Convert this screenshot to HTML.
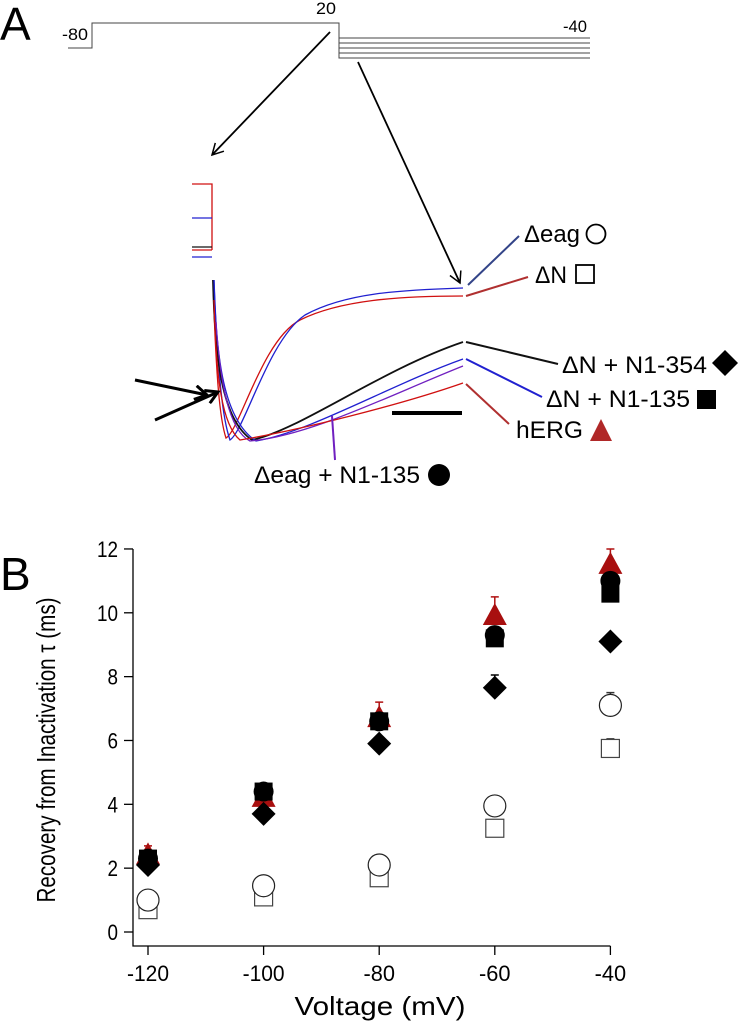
<!DOCTYPE html>
<html><head><meta charset="utf-8"><style>
body{margin:0;background:#fff;}
svg{display:block;font-family:"Liberation Sans",Arial,sans-serif;}
</style></head><body>
<svg width="740" height="1032" viewBox="0 0 740 1032">
<defs>
<marker id="ah" markerWidth="14" markerHeight="14" refX="12" refY="7" orient="auto" markerUnits="userSpaceOnUse"><path d="M1,1 L12,7 L1,13" fill="none" stroke="#000" stroke-width="1.5"/></marker>
<marker id="ahb" markerWidth="16" markerHeight="16" refX="13" refY="8" orient="auto" markerUnits="userSpaceOnUse"><path d="M1,1 L13,8 L1,15" fill="none" stroke="#000" stroke-width="3"/></marker>
</defs>
<text x="0" y="40" font-size="46">A</text>
<g fill="none" stroke="#444" stroke-width="1">
<path d="M68,48 H92 V23 H339 V58 H590"/>
<path d="M339,38 H590 M339,43 H590 M339,48 H590 M339,53 H590"/>
</g>
<text x="62" y="40" font-size="17" textLength="26" lengthAdjust="spacingAndGlyphs">-80</text>
<text x="316" y="14" font-size="17" textLength="20" lengthAdjust="spacingAndGlyphs">20</text>
<text x="563" y="32" font-size="17" textLength="24" lengthAdjust="spacingAndGlyphs">-40</text>
<line x1="330" y1="32" x2="212" y2="155" stroke="#000" stroke-width="1.8" marker-end="url(#ah)"/>
<line x1="358" y1="62" x2="460" y2="283" stroke="#000" stroke-width="1.8" marker-end="url(#ah)"/>
<g fill="none" stroke-width="1.3">
<path d="M192,184 H212 V250" stroke="#d01010"/>
<path d="M192,218 H212" stroke="#2020d0"/>
<path d="M192,247 H212" stroke="#111"/>
<path d="M192,250 H212" stroke="#d01010"/>
<path d="M192,257 H212" stroke="#2020d0"/>
<path d="M213,280 C216,380 220,420 226,438 C240,430 262,340 300,320 C340,300 400,296 463,296" stroke="#d01010"/>
<path d="M214,280 C218,380 223,420 230,440 C245,430 268,340 305,315 C345,293 400,290 463,288" stroke="#2020d0"/>
<path d="M213,280 C215,360 222,420 252,440 C300,430 380,370 463,342" stroke="#111" stroke-width="1.8"/>
<path d="M214,280 C216,360 224,420 256,441 C310,432 390,385 463,359" stroke="#2020d0"/>
<path d="M216,322 C220,380 228,430 250,441 C310,436 390,395 463,366" stroke="#7020c0"/>
<path d="M214,300 C216,380 222,425 240,440 C300,430 400,405 463,383" stroke="#d01010"/>
</g>
<g stroke-width="2" fill="none">
<line x1="468" y1="285" x2="519" y2="236" stroke="#334488"/>
<line x1="466" y1="296" x2="528" y2="277" stroke="#b03030"/>
<line x1="466" y1="342" x2="558" y2="364" stroke="#111"/>
<line x1="466" y1="359" x2="542" y2="397" stroke="#2020d0"/>
<line x1="466" y1="384" x2="509" y2="424" stroke="#b03030"/>
<line x1="332" y1="416" x2="335" y2="460" stroke="#7020c0"/>
</g>
<text x="524" y="242" font-size="24" textLength="56" lengthAdjust="spacingAndGlyphs">Δeag</text>
<circle cx="596" cy="234" r="9.5" fill="#fff" stroke="#000" stroke-width="1.8"/>
<text x="535" y="283" font-size="24" textLength="32" lengthAdjust="spacingAndGlyphs">ΔN</text>
<rect x="576" y="265" width="18" height="18" fill="#fff" stroke="#000" stroke-width="1.8"/>
<text x="562" y="373" font-size="24" textLength="145" lengthAdjust="spacingAndGlyphs">ΔN + N1-354</text>
<path d="M725,350 L738,363 L725,376 L712,363Z" fill="#000"/>
<text x="546" y="407" font-size="24" textLength="144" lengthAdjust="spacingAndGlyphs">ΔN + N1-135</text>
<rect x="697" y="390" width="19" height="19" fill="#000"/>
<text x="516" y="438" font-size="24" textLength="67" lengthAdjust="spacingAndGlyphs">hERG</text>
<path d="M601,419 L612,441 L590,441Z" fill="#b02828"/>
<text x="254" y="483" font-size="24" textLength="166" lengthAdjust="spacingAndGlyphs">Δeag + N1-135</text>
<circle cx="439" cy="475" r="11" fill="#000"/>
<line x1="392" y1="413" x2="462" y2="413" stroke="#000" stroke-width="4"/>
<line x1="135" y1="380" x2="207" y2="395" stroke="#000" stroke-width="3" marker-end="url(#ahb)"/>
<line x1="155" y1="420" x2="218" y2="392" stroke="#000" stroke-width="3" marker-end="url(#ahb)"/>

<text x="0" y="590" font-size="46">B</text>
<g id="chart"></g>
</svg>
<script>
const voltages=[-120,-100,-80,-60,-40];
const yTicks=[0,2,4,6,8,10,12];
const hERG=[2.4,4.2,6.7,9.9,11.5];
const hERGErr=[0.3,0.3,0.5,0.6,0.5];
const dnN135=[2.3,4.4,6.6,9.2,10.6];
const deagN135=[2.3,4.4,6.6,9.3,11.0];
const dnN354=[2.1,3.7,5.9,7.65,9.1];
const dnN354Err=[0.1,0.15,0.15,0.4,0.15];
const deag=[1.0,1.45,2.1,3.95,7.1];
const deagErr=[0.1,0.1,0.1,0.1,0.4];
const dn=[0.7,1.1,1.7,3.25,5.75];
const dnErr=[0.1,0.1,0.1,0.1,0.3];
const NS='http://www.w3.org/2000/svg';
const g=document.getElementById('chart');
const X=v=>148+(v+120)*5.78;
const Y=v=>932-v*31.92;
function el(t,a,p){const e=document.createElementNS(NS,t);for(const k in a)e.setAttribute(k,a[k]);(p||g).appendChild(e);return e;}
let ax=el('path',{d:'M133,549 V946 H'+X(-40),fill:'none',stroke:'#000','stroke-width':1.3});


yTicks.forEach(t=>{const l=el('line',{x1:124,x2:133,y1:Y(t),y2:Y(t),stroke:'#000','stroke-width':1.3});


const s=String(t);
const tx=el('text',{x:118,y:Y(t)+8,'font-size':22,'text-anchor':'end',textLength:s.length*10.5,lengthAdjust:'spacingAndGlyphs'});tx.textContent=s;

});
voltages.forEach(v=>{const l=el('line',{x1:X(v),x2:X(v),y1:946,y2:955,stroke:'#000','stroke-width':1.3});


const s=String(v);
const tx=el('text',{x:X(v),y:981,'font-size':22,'text-anchor':'middle',textLength:s.length*10.5,lengthAdjust:'spacingAndGlyphs'});tx.textContent=s;

});
const yl=el('text',{x:0,y:0,'font-size':26,'text-anchor':'middle',textLength:305,lengthAdjust:'spacingAndGlyphs',transform:'translate(55,750) rotate(-90)'});yl.textContent='Recovery from Inactivation τ (ms)';


const xl=el('text',{x:380,y:1015,'font-size':26,'text-anchor':'middle',textLength:171,lengthAdjust:'spacingAndGlyphs'});xl.textContent='Voltage (mV)';


function err(vals,errs,color){vals.forEach((v,i)=>{const x=X(voltages[i]);const e=el('path',{d:`M${x},${Y(v)} V${Y(v+errs[i])} M${x-4},${Y(v+errs[i])} H${x+4}`,stroke:color,'stroke-width':1.5,fill:'none'});

});}
err(dn,dnErr,'#333');err(deag,deagErr,'#333');err(hERG,hERGErr,'#b01010');err(dnN354,dnN354Err,'#000');
dn.forEach((v,i)=>{const x=X(voltages[i]),y=Y(v);const m=el('rect',{x:x-9,y:y-9,width:18,height:18,fill:'#fff',stroke:'#444','stroke-width':1.2});

});
deag.forEach((v,i)=>{const m=el('circle',{cx:X(voltages[i]),cy:Y(v),r:11,fill:'#fff',stroke:'#222','stroke-width':1.2});

});
hERG.forEach((v,i)=>{const x=X(voltages[i]),y=Y(v);const m=el('path',{d:`M${x},${y-13} L${x+12},${y+9} L${x-12},${y+9}Z`,fill:'#a80f0f'});

});
dnN354.forEach((v,i)=>{const x=X(voltages[i]),y=Y(v);const m=el('path',{d:`M${x},${y-12} L${x+12},${y} L${x},${y+12} L${x-12},${y}Z`,fill:'#000'});

});
dnN135.forEach((v,i)=>{const x=X(voltages[i]),y=Y(v);const m=el('rect',{x:x-9,y:y-9,width:18,height:18,fill:'#000'});

});
deagN135.forEach((v,i)=>{const m=el('circle',{cx:X(voltages[i]),cy:Y(v),r:10,fill:'#000'});

});
</script>
</body></html>
